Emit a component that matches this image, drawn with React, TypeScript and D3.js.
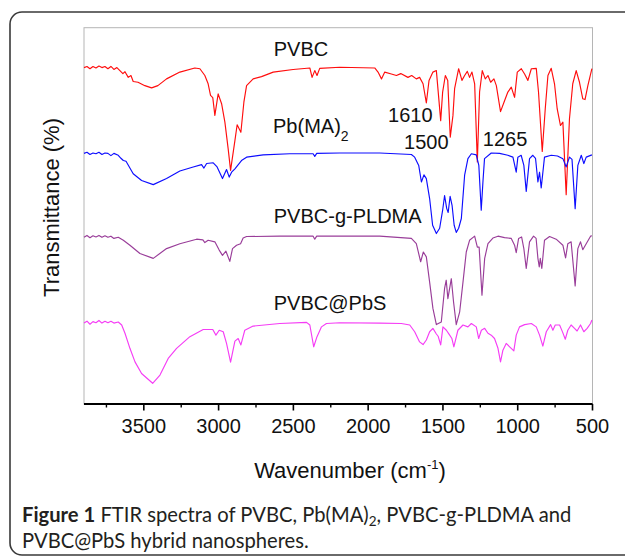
import React from 'react';
import * as d3 from 'd3';

type Pt = [number, number];

// wavenumber (cm-1), transmittance (offset, a.u.)
const pvbc: Pt[] = [
  [3900, 89.4], [3880, 89.7], [3860, 89.1], [3840, 89.7], [3820, 89.3], [3800, 89.8], [3780, 89.4],
  [3760, 89.7], [3740, 89.1], [3720, 89.7], [3700, 88.9], [3680, 89.4], [3660, 88.6], [3640, 87.8],
  [3626, 88.3], [3604, 86.8], [3586, 87.3], [3571, 85.7], [3539, 85.5], [3493, 84.6], [3448, 84.0],
  [3406, 84.6], [3348, 86.4], [3259, 88.2], [3159, 89.3], [3125, 89.1], [3092, 87.3], [3070, 85.1],
  [3054, 82.0], [3039, 81.4], [3025, 76.7], [3003, 82.4], [2980, 79.8], [2958, 74.9], [2936, 67.8],
  [2920, 62.1], [2891, 70.0], [2876, 74.2], [2851, 72.2], [2831, 80.2], [2813, 84.6], [2769, 86.4],
  [2713, 87.0], [2635, 88.2], [2502, 88.9], [2390, 89.3], [2375, 86.8], [2357, 88.6], [2342, 87.3],
  [2324, 89.2], [2190, 89.5], [1956, 89.3], [1934, 88.2], [1911, 86.4], [1889, 88.2], [1845, 87.7],
  [1811, 87.3], [1782, 87.8], [1734, 86.8], [1709, 87.3], [1678, 86.4], [1656, 86.8], [1633, 85.1],
  [1611, 80.0], [1593, 86.0], [1567, 88.2], [1544, 88.6], [1515, 75.3], [1502, 82.9], [1484, 87.3],
  [1468, 86.0], [1451, 70.9], [1433, 76.7], [1422, 83.8], [1395, 89.1], [1373, 86.0], [1355, 87.3],
  [1337, 88.4], [1322, 86.8], [1306, 88.2], [1288, 85.1], [1270, 64.3], [1255, 82.9], [1237, 88.6],
  [1217, 86.4], [1199, 87.3], [1181, 85.5], [1159, 86.4], [1143, 84.6], [1115, 77.7], [1088, 80.6],
  [1066, 82.9], [1043, 84.2], [1021, 81.5], [1003, 88.2], [976, 89.1], [954, 87.7], [932, 86.0],
  [909, 89.1], [876, 89.2], [861, 82.9], [836, 67.1], [816, 78.4], [798, 87.3], [776, 89.2],
  [754, 85.1], [736, 78.4], [714, 74.0], [698, 74.9], [676, 55.6], [654, 75.8], [632, 85.1],
  [609, 88.6], [587, 85.5], [565, 81.1], [550, 80.9], [531, 84.6], [504, 89.1],
];

const pbma: Pt[] = [
  [3900, 66.6], [3880, 66.9], [3860, 66.3], [3840, 66.7], [3820, 66.5], [3800, 66.9], [3780, 66.3],
  [3760, 66.7], [3740, 66.6], [3720, 66.0], [3700, 66.6], [3671, 66.1], [3653, 65.3], [3637, 64.7],
  [3619, 64.5], [3571, 61.2], [3515, 59.4], [3437, 58.3], [3348, 59.9], [3259, 61.9], [3170, 63.0],
  [3114, 63.6], [3098, 62.7], [3080, 63.9], [3036, 64.1], [3010, 63.0], [2974, 59.9], [2947, 62.3],
  [2929, 60.3], [2913, 61.6], [2891, 62.5], [2847, 64.7], [2813, 65.6], [2702, 66.2], [2524, 66.5],
  [2368, 66.5], [2357, 65.8], [2344, 66.6], [2190, 66.7], [1923, 66.7], [1711, 66.3], [1689, 65.6],
  [1662, 63.4], [1644, 59.0], [1627, 60.9], [1611, 59.9], [1589, 54.6], [1569, 47.5], [1544, 45.3],
  [1522, 46.7], [1502, 51.5], [1489, 55.4], [1475, 52.0], [1465, 50.9], [1452, 55.2], [1439, 52.8],
  [1425, 47.5], [1411, 45.6], [1395, 46.7], [1377, 49.3], [1355, 60.8], [1333, 65.2], [1310, 66.5],
  [1277, 66.2], [1260, 63.4], [1244, 51.5], [1232, 59.4], [1222, 65.2], [1177, 66.7], [1121, 66.6],
  [1066, 66.1], [1032, 65.6], [1010, 61.6], [999, 65.6], [977, 66.1], [959, 63.4], [943, 56.5],
  [921, 65.2], [899, 66.1], [881, 65.3], [865, 59.0], [854, 61.6], [843, 57.4], [821, 65.6],
  [776, 66.1], [734, 65.9], [698, 65.2], [676, 63.0], [654, 65.6], [637, 65.0], [616, 51.9],
  [598, 63.4], [575, 66.1], [558, 63.9], [542, 65.6], [504, 66.2],
];

const pvbcGPldma: Pt[] = [
  [3900, 44.3], [3880, 44.8], [3860, 44.2], [3840, 44.7], [3820, 44.4], [3800, 44.8], [3780, 44.3],
  [3760, 44.7], [3740, 44.3], [3720, 44.6], [3700, 44.0], [3671, 44.3], [3637, 43.5], [3593, 42.2],
  [3526, 40.0], [3437, 38.7], [3348, 41.3], [3259, 42.6], [3147, 43.8], [3105, 43.6], [3092, 42.9],
  [3070, 43.5], [3025, 43.1], [2996, 40.9], [2974, 39.5], [2951, 40.6], [2925, 37.9], [2907, 41.3],
  [2880, 42.2], [2853, 42.6], [2836, 44.1], [2813, 44.5], [2591, 44.6], [2368, 44.6], [2357, 43.8],
  [2344, 44.6], [2190, 44.6], [1923, 44.6], [1711, 44.0], [1678, 42.6], [1649, 37.8], [1631, 40.4],
  [1611, 39.1], [1589, 32.4], [1567, 25.4], [1544, 21.1], [1511, 21.8], [1489, 30.7], [1478, 32.9],
  [1467, 28.0], [1444, 33.3], [1429, 27.1], [1411, 21.1], [1388, 24.5], [1366, 32.4], [1344, 40.4],
  [1322, 43.5], [1288, 44.6], [1270, 41.7], [1258, 41.7], [1239, 28.9], [1221, 38.7], [1199, 42.6],
  [1166, 44.1], [1132, 44.6], [1088, 44.2], [1043, 44.0], [1021, 42.2], [1010, 40.2], [994, 44.0],
  [974, 44.4], [959, 41.3], [943, 36.0], [921, 43.1], [894, 44.6], [877, 44.0], [865, 38.7],
  [856, 36.4], [849, 38.7], [839, 36.0], [821, 43.5], [787, 44.5], [743, 43.8], [698, 42.2],
  [680, 38.8], [665, 42.6], [643, 43.1], [616, 31.4], [598, 41.3], [580, 43.1], [565, 41.0],
  [542, 42.6], [513, 44.6], [504, 44.7],
];

const pvbcPbs: Pt[] = [
  [3900, 21.5], [3880, 22.0], [3860, 21.2], [3840, 21.9], [3820, 21.6], [3800, 22.2], [3780, 21.5],
  [3760, 22.0], [3740, 21.6], [3720, 22.0], [3700, 21.5], [3671, 21.8], [3648, 21.0], [3626, 18.8],
  [3593, 14.8], [3559, 11.2], [3515, 8.1], [3441, 5.5], [3392, 7.7], [3337, 12.1], [3281, 14.8],
  [3192, 17.9], [3103, 19.8], [3039, 19.8], [3018, 18.3], [2996, 19.6], [2969, 19.2], [2947, 16.1],
  [2920, 11.1], [2891, 16.7], [2869, 17.4], [2851, 15.7], [2825, 19.6], [2769, 20.7], [2591, 21.4],
  [2412, 21.7], [2390, 21.0], [2364, 15.2], [2342, 17.9], [2312, 20.5], [2279, 21.4], [2190, 21.6],
  [1923, 21.5], [1778, 21.4], [1722, 21.0], [1689, 19.2], [1656, 16.5], [1633, 15.8], [1611, 17.0],
  [1589, 19.2], [1567, 20.1], [1544, 18.6], [1532, 18.0], [1515, 15.7], [1500, 20.5], [1477, 19.6],
  [1455, 18.3], [1440, 17.4], [1427, 15.2], [1400, 19.6], [1366, 21.0], [1333, 20.5], [1310, 21.4],
  [1277, 20.5], [1261, 17.4], [1243, 19.6], [1221, 20.1], [1199, 18.8], [1177, 18.3], [1155, 17.4],
  [1132, 14.8], [1115, 11.2], [1099, 14.3], [1077, 16.1], [1054, 15.2], [1026, 14.1], [1010, 18.3],
  [988, 20.5], [954, 21.1], [909, 21.4], [876, 20.5], [854, 18.3], [832, 15.4], [809, 19.2],
  [780, 21.1], [765, 19.6], [749, 21.0], [720, 21.0], [700, 19.1], [682, 17.2], [665, 19.6],
  [643, 21.0], [620, 20.1], [603, 19.4], [580, 21.0], [558, 19.2], [536, 20.1], [513, 21.4], [504, 22.3],
];

const majorTicks = [3500, 3000, 2500, 2000, 1500, 1000, 500];
const minorTicks = [3750, 3250, 2750, 2250, 1750, 1250, 750];

const series = [
  { name: 'PVBC', data: pvbc, color: '#ff0d0d' },
  { name: 'Pb(MA)2', data: pbma, color: '#0d0dff' },
  { name: 'PVBC-g-PLDMA', data: pvbcGPldma, color: '#993d99' },
  { name: 'PVBC@PbS', data: pvbcPbs, color: '#f53df5' },
];

// label anchors in data space: [wavenumber, transmittance]
const curveLabels: { text: string; sub?: string; at: Pt }[] = [
  { text: 'PVBC', at: [2631, 92.6] },
  { text: 'Pb(MA)', sub: '2', at: [2636, 72.1] },
  { text: 'PVBC-g-PLDMA', at: [2631, 48.0] },
  { text: 'PVBC@PbS', at: [2631, 24.9] },
];
const peakLabels: { text: string; at: Pt }[] = [
  { text: '1610', at: [1867, 74.9] },
  { text: '1500', at: [1760, 67.7] },
  { text: '1265', at: [1233, 68.5] },
];

const W = 625;
const H = 557;
const plot = { left: 84, right: 592.5, top: 27.7, bottom: 404 };
const font = '"Liberation Sans", Arial, Helvetica, sans-serif';

export default function App() {
  const x = d3.scaleLinear().domain([3900, 500]).range([plot.left, plot.right]);
  const y = d3.scaleLinear().domain([0, 100]).range([plot.bottom, plot.top]);
  const line = d3.line<Pt>().x(d => x(d[0])).y(d => y(d[1]));

  return (
    <svg
      width={W}
      height={H}
      style={{ position: 'absolute', left: 0, top: 0, background: '#fff' }}
    >
      <rect x={10} y={12} width={660} height={543} rx={12} fill="none" stroke="#3a3a3a" strokeWidth={1.6} />

      {/* plot frame */}
      <rect
        x={plot.left}
        y={plot.top}
        width={plot.right - plot.left}
        height={plot.bottom - plot.top}
        fill="none"
        stroke="#b5b5b5"
        strokeWidth={1}
      />

      {series.map(s => (
        <path key={s.name} d={line(s.data) || ''} fill="none" stroke={s.color} strokeWidth={1.15} strokeLinejoin="round" />
      ))}

      {/* x axis */}
      <line x1={plot.left} x2={plot.right} y1={plot.bottom} y2={plot.bottom} stroke="#000" strokeWidth={2} />
      {majorTicks.map(t => (
        <line key={'M' + t} x1={x(t)} x2={x(t)} y1={plot.bottom} y2={plot.bottom + 6.5} stroke="#000" strokeWidth={1.6} />
      ))}
      {minorTicks.map(t => (
        <line key={'m' + t} x1={x(t)} x2={x(t)} y1={plot.bottom} y2={plot.bottom + 3.5} stroke="#000" strokeWidth={1.4} />
      ))}
      {majorTicks.map(t => (
        <text key={'l' + t} x={x(t)} y={433} textAnchor="middle" fontFamily={font} fontSize={20} fill="#111">
          {t}
        </text>
      ))}

      <text x={350} y={478} textAnchor="middle" fontFamily={font} fontSize={22} fill="#111">
        Wavenumber (cm<tspan dy={-9} fontSize={13}>-1</tspan><tspan dy={9}>)</tspan>
      </text>
      <text
        transform="translate(59,207.5) rotate(-90)"
        textAnchor="middle"
        fontFamily={font}
        fontSize={22}
        fill="#111"
      >
        Transmittance (%)
      </text>

      {curveLabels.map(l => (
        <text key={l.text} x={x(l.at[0])} y={y(l.at[1])} fontFamily={font} fontSize={20} fill="#111">
          {l.text}
          {l.sub && <tspan dy={8} fontSize={14}>{l.sub}</tspan>}
        </text>
      ))}
      {peakLabels.map(l => (
        <text key={l.text} x={x(l.at[0])} y={y(l.at[1])} fontFamily={font} fontSize={20} fill="#111">
          {l.text}
        </text>
      ))}

      {/* caption */}
      <g fontFamily='Lato, "Open Sans", sans-serif' fontSize={20.2} fill="#231f20">
        <text x={22} y={522}>
          <tspan fontWeight="bold">Figure 1</tspan> FTIR spectra of PVBC, Pb(MA)
          <tspan dy={4} fontSize={13.5}>2</tspan>
          <tspan dy={-4}>, PVBC-g-PLDMA and</tspan>
        </text>
        <text x={22} y={548}>PVBC@PbS hybrid nanospheres.</text>
      </g>
    </svg>
  );
}
